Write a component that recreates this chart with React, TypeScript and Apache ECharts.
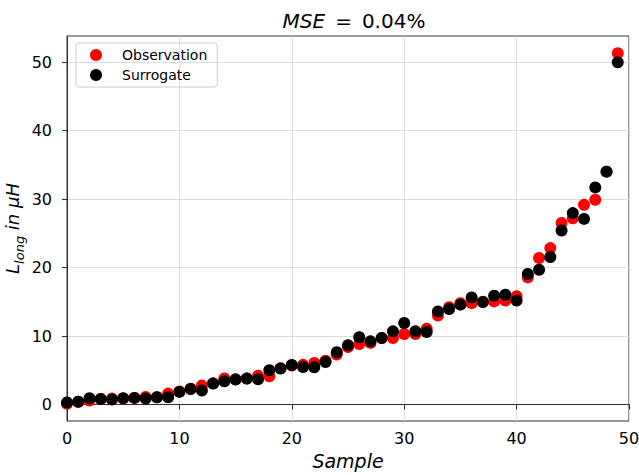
import React, { useEffect, useRef } from "react";
import * as echarts from "echarts";

const samples: number[] = Array.from({ length: 50 }, (_, i) => i);
const observation = [
  0.1, 0.4, 0.6, 0.8, 0.87, 0.9, 0.97, 1.1, 1.07, 1.6,
  1.9, 2.3, 2.77, 3.1, 3.8, 3.7, 3.8, 4.2, 4.13, 5.3,
  5.7, 5.8, 6.07, 6.4, 7.3, 8.4, 8.85, 9.0, 9.7, 9.72,
  10.3, 10.3, 11.08, 13.0, 14.2, 14.8, 14.8, 15.0, 15.06, 15.2,
  15.8, 18.56, 21.4, 22.84, 26.5, 27.2, 29.15, 29.9, 34.0, 51.3,
];
const surrogate = [
  0.3, 0.4, 0.92, 0.82, 0.73, 0.92, 0.97, 0.87, 1.07, 1.07,
  1.85, 2.28, 2.04, 3.06, 3.4, 3.64, 3.79, 3.7, 5.0, 5.25,
  5.78, 5.49, 5.44, 6.22, 7.63, 8.65, 9.82, 9.23, 9.72, 10.69,
  11.9, 10.69, 10.6, 13.6, 13.95, 14.58, 15.64, 14.97, 15.9, 16.03,
  15.2, 19.05, 19.68, 21.53, 25.4, 27.95, 27.1, 31.7, 34.0, 49.95,
];
const yTicks = [0, 10, 20, 30, 40, 50];

const FONT = "DejaVu Sans";

export default function App() {
  const ref = useRef<HTMLDivElement>(null);
  useEffect(() => {
    if (!ref.current) return;
    const chart = echarts.init(ref.current, undefined, { renderer: "svg" });
    chart.setOption({
      animation: false,
      backgroundColor: "#fff",
      textStyle: { fontFamily: FONT },
      title: {
        text: "{i|MSE}{e|=}{n|0.04%}",
        left: 349,
        textAlign: "center",
        top: 6,
        textStyle: {
          fontFamily: FONT,
          fontSize: 20,
          fontWeight: "normal",
          color: "#000",
          rich: {
            i: { fontFamily: FONT, fontSize: 20, fontStyle: "italic", color: "#000" },
            e: { fontFamily: FONT, fontSize: 20, color: "#000", padding: [0, 10, 0, 10] },
            n: { fontFamily: FONT, fontSize: 20, color: "#000" },
          },
        },
      },
      legend: {
        left: 76,
        top: 43,
        orient: "vertical",
        itemWidth: 12,
        itemHeight: 12,
        itemGap: 6,
        icon: "circle",
        padding: [5, 10, 5, 14],
        borderColor: "#cccccc",
        borderWidth: 1,
        borderRadius: 3,
        textStyle: { fontFamily: FONT, fontSize: 14, color: "#000", padding: [0, 0, 0, 15] },
        data: ["Observation", "Surrogate"],
      },
      grid: {
        left: 67,
        right: 10,
        top: 36,
        bottom: 54,
        containLabel: false,
        outerBoundsMode: "none",
        show: true,
        borderColor: "#333",
        borderWidth: 1,
        backgroundColor: "transparent",
      },
      xAxis: {
        type: "value",
        min: 0,
        max: 50,
        interval: 10,
        name: "Sample",
        nameLocation: "middle",
        nameGap: 30,
        nameMoveOverlap: false,
        nameTextStyle: { fontFamily: FONT, fontSize: 19, fontStyle: "italic", color: "#000" },
        axisLine: { lineStyle: { color: "#333", width: 1 } },
        axisTick: { show: true, length: 5, lineStyle: { color: "#333" } },
        axisLabel: { fontFamily: FONT, fontSize: 16, color: "#000", margin: 9 },
        splitLine: { show: true, lineStyle: { color: "#dcdcdc", width: 1 } },
      },
      yAxis: {
        type: "value",
        min: -2.4,
        max: 53.8,
        name: "{i|L}{s|long}{i| in μH}",
        nameLocation: "middle",
        nameGap: 42,
        nameRotate: 90,
        nameMoveOverlap: false,
        nameTextStyle: {
          fontFamily: FONT,
          fontSize: 18,
          fontStyle: "italic",
          color: "#000",
          rich: {
            i: { fontFamily: FONT, fontSize: 18, fontStyle: "italic", color: "#000", lineHeight: 22, verticalAlign: "top" },
            s: { fontFamily: FONT, fontSize: 13, fontStyle: "italic", color: "#000", lineHeight: 13, padding: [10, 0, 0, 0], verticalAlign: "top" },
          },
        },
        axisLine: { show: true, lineStyle: { color: "#333", width: 1 } },
        axisTick: { show: true, length: 5, lineStyle: { color: "#333" }, customValues: yTicks },
        axisLabel: { fontFamily: FONT, fontSize: 16, color: "#000", margin: 15, customValues: yTicks },
        splitLine: { show: false },
      },
      series: [
        {
          name: "Observation",
          type: "scatter",
          symbolSize: 12,
          itemStyle: { color: "#ff0000", opacity: 1 },
          data: samples.map((x, i) => [x, observation[i]]),
          markLine: {
            silent: true,
            symbol: "none",
            label: { show: false },
            lineStyle: { color: "#dcdcdc", width: 1, type: "solid" },
            data: yTicks.map((v) => ({ yAxis: v })),
            z: 0,
          },
          z: 2,
        },
        {
          name: "Surrogate",
          type: "scatter",
          symbolSize: 12,
          itemStyle: { color: "#000000", opacity: 1 },
          data: samples.map((x, i) => [x, surrogate[i]]),
          z: 3,
        },
      ],
    });
    return () => chart.dispose();
  }, []);
  return <div ref={ref} style={{ width: 639, height: 475, position: "absolute", left: 0, top: 0 }} />;
}
